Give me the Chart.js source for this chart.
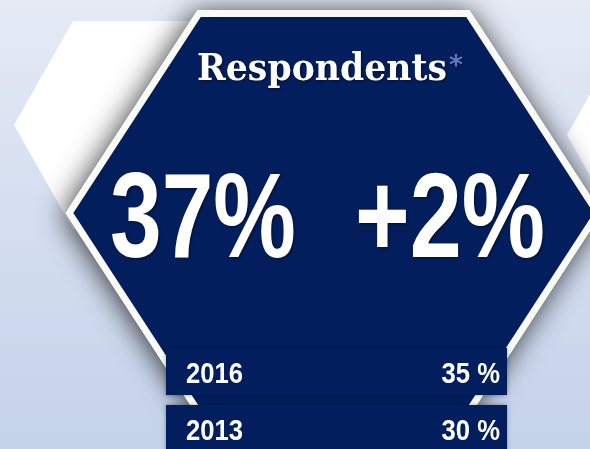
<!DOCTYPE html>
<html>
<head>
<meta charset="utf-8">
<script src="https://cdn.jsdelivr.net/npm/chart.js@4/dist/chart.umd.min.js"></script>
<style>
html, body { margin: 0; padding: 0; overflow: hidden; background: #dfe6f3; }
canvas { display: block; }
</style>
</head>
<body>
<canvas id="myChart" width="590" height="470"></canvas>
<script>
// data
var categories = ['2016', '2013'];
var shareValues = [35, 30];
var currentShare = 37;
var titleText = 'Respondents';

var navy = '#021e5d';

function hexPath(ctx, left, tl, tr, right, top, bottom) {
    var mid = (top + bottom) / 2;
    ctx.beginPath();
    ctx.moveTo(left, mid);
    ctx.lineTo(tl, top);
    ctx.lineTo(tr, top);
    ctx.lineTo(right, mid);
    ctx.lineTo(tr, bottom);
    ctx.lineTo(tl, bottom);
    ctx.closePath();
}

// draw text squeezed (or stretched) horizontally to a given width
function fitText(ctx, text, x, y, width, align) {
    var w = ctx.measureText(text).width;
    var sx = width / w;
    ctx.save();
    ctx.textAlign = 'left';
    var start = align === 'right' ? x - width : x;
    ctx.translate(start, y);
    ctx.scale(sx, 1);
    ctx.fillText(text, 0, 0);
    ctx.restore();
}

var hexPlugin = {
    id: 'hexPlugin',
    beforeDraw: function(chart) {
        var ctx = chart.ctx;
        ctx.save();
        var g = ctx.createLinearGradient(0, 0, 0, 449);
        g.addColorStop(0, '#e5eaf5');
        g.addColorStop(1, '#c4d2ea');
        ctx.fillStyle = g;
        ctx.fillRect(0, 0, chart.width, chart.height);

        // white hexagons in the back
        ctx.fillStyle = '#ffffff';
        hexPath(ctx, 14, 73, 300, 360, 21, 229);
        ctx.fill();
        hexPath(ctx, 567, 626, 800, 860, 31, 239);
        ctx.fill();

        // big navy hexagon with shadow
        ctx.save();
        ctx.shadowColor = 'rgba(0,0,0,0.75)';
        ctx.shadowBlur = 28;
        ctx.shadowOffsetX = -2;
        ctx.shadowOffsetY = 2;
        hexPath(ctx, 65, 197, 470, 602, 10, 416);
        ctx.fillStyle = navy;
        ctx.fill();
        ctx.restore();

        ctx.save();
        hexPath(ctx, 65, 197, 470, 602, 10, 416);
        ctx.clip();
        ctx.lineWidth = 14;
        ctx.strokeStyle = '#fbfbf6';
        ctx.stroke();
        ctx.restore();

        // title
        ctx.save();
        ctx.shadowColor = 'rgba(0,0,0,0.5)';
        ctx.shadowBlur = 3;
        ctx.shadowOffsetX = 1;
        ctx.shadowOffsetY = 1;
        ctx.fillStyle = '#ffffff';
        ctx.textBaseline = 'alphabetic';
        ctx.font = 'bold 38px "DejaVu Serif", serif';
        fitText(ctx, titleText, 197, 80, 250, 'left');
        ctx.fillStyle = '#5a7bbf';
        ctx.font = 'bold 26px "DejaVu Sans", sans-serif';
        fitText(ctx, '*', 449, 74, 14, 'left');

        // headline numbers
        var change = currentShare - shareValues[0];
        ctx.fillStyle = '#ffffff';
        ctx.font = 'bold 121px "Liberation Sans", Arial, sans-serif';
        fitText(ctx, currentShare + '%', 110, 257, 186, 'left');
        fitText(ctx, (change >= 0 ? '+' : '') + change + '%', 355, 257, 190, 'left');
        ctx.restore();
        ctx.restore();
    },
    afterDatasetsDraw: function(chart) {
        var ctx = chart.ctx;
        var area = chart.chartArea;
        var meta = chart.getDatasetMeta(0);
        ctx.save();
        ctx.font = 'bold 29px "Liberation Sans", Arial, sans-serif';
        var sx = 57 / ctx.measureText('2016').width;
        meta.data.forEach(function(bar, i) {
            var top = bar.y - bar.height / 2;
            ctx.save();
            ctx.shadowColor = 'rgba(0,0,0,0.35)';
            ctx.shadowBlur = 4;
            ctx.fillStyle = navy;
            ctx.fillRect(area.left, top, area.right - area.left, bar.height);
            ctx.restore();
            ctx.fillStyle = '#ffffff';
            var base = bar.y + 11.5;
            var lab = categories[i];
            fitText(ctx, lab, area.left + 20, base, ctx.measureText(lab).width * sx, 'left');
            var val = shareValues[i] + ' %';
            fitText(ctx, val, area.right - 7, base, ctx.measureText(val).width * sx, 'right');
        });
        ctx.restore();
    }
};

var ctx = document.getElementById('myChart');
var myChart = new Chart(ctx, {
    type: 'bar',
    data: {
        labels: categories,
        datasets: [{
            label: titleText,
            data: shareValues,
            backgroundColor: 'rgba(0,0,0,0)',
            barPercentage: 0.825,
            categoryPercentage: 1
        }]
    },
    options: {
        indexAxis: 'y',
        responsive: false,
        animation: false,
        layout: {
            padding: { top: 343, bottom: 13, left: 166, right: 83 }
        },
        plugins: {
            legend: { display: false },
            tooltip: { enabled: false }
        },
        scales: {
            x: { display: false, min: 0, max: 100 },
            y: { display: false }
        }
    },
    plugins: [hexPlugin]
});
</script>
</body>
</html>
